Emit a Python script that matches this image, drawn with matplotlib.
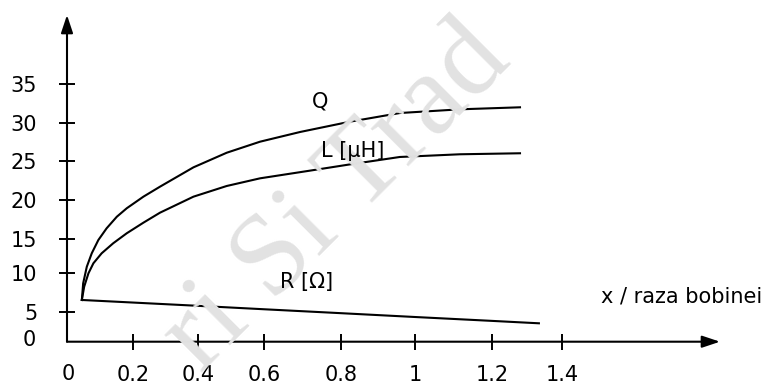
import numpy as np
import matplotlib
matplotlib.use("Agg")
import matplotlib.pyplot as plt

# ---------------- data ----------------
x_tick_values = [0, 0.2, 0.4, 0.6, 0.8, 1.0, 1.2, 1.4]
x_tick_labels = ["0", "0.2", "0.4", "0.6", "0.8", "1", "1.2", "1.4"]
y_tick_values = [0, 5, 10, 15, 20, 25, 30, 35]
y_tick_labels = ["0", "5", "10", "15", "20", "25", "30", "35"]

# Q curve
q_x = [0.045, 0.049, 0.060, 0.075, 0.095, 0.120, 0.151, 0.181, 0.232, 0.283,
       0.386, 0.487, 0.588, 0.694, 0.824, 0.959, 1.117, 1.28]
q_val = [6.58, 8.72, 10.95, 12.89, 14.81, 16.34, 17.84, 18.93, 20.43, 21.72,
         24.22, 26.11, 27.54, 28.80, 30.13, 31.25, 31.73, 31.99]

# L [uH] curve
l_x = [0.045, 0.052, 0.065, 0.080, 0.105, 0.140, 0.181, 0.232, 0.283, 0.386,
       0.487, 0.588, 0.719, 0.824, 0.959, 1.117, 1.28]
l_val = [6.58, 8.28, 10.00, 11.45, 12.89, 14.34, 15.70, 17.07, 18.36, 20.43,
         21.81, 22.80, 23.79, 24.60, 25.56, 25.91, 26.04]

# R [Ohm] curve
r_x = [0.045, 0.2, 0.4, 0.6, 0.8, 1.0, 1.2, 1.334]
r_val = [6.58, 6.25, 5.83, 5.39, 4.85, 4.20, 3.54, 3.13]

# ---------------- layout (hand-drawn, unevenly spaced axes) ----------------
W, H = 765, 385
x_tick_px = [67, 133, 198, 264, 341, 415, 492, 562]
y_tick_px = [341.7, 312.3, 273.3, 238.7, 200, 161.3, 122.7, 84]


def make_pw(xs, ys):
    xs = np.asarray(xs, float)
    ys = np.asarray(ys, float)
    s0 = (ys[1] - ys[0]) / (xs[1] - xs[0])
    s1 = (ys[-1] - ys[-2]) / (xs[-1] - xs[-2])

    def f(v):
        v = np.asarray(v, float)
        out = np.interp(v, xs, ys)
        out = np.where(v < xs[0], ys[0] + (v - xs[0]) * s0, out)
        out = np.where(v > xs[-1], ys[-1] + (v - xs[-1]) * s1, out)
        return out
    return f


fx = make_pw(x_tick_values, x_tick_px)
fx_inv = make_pw(x_tick_px, x_tick_values)
neg_y_px = [-p for p in y_tick_px]
fy = make_pw(y_tick_values, neg_y_px)
fy_inv = make_pw(neg_y_px, y_tick_values)

fig = plt.figure(figsize=(W / 100, H / 100), dpi=100)
ax = fig.add_axes([0, 0, 1, 1])
ax.set_xscale("function", functions=(fx, fx_inv))
ax.set_yscale("function", functions=(fy, fy_inv))
ax.set_xlim(float(fx_inv(0)), float(fx_inv(W)))
ax.set_ylim(float(fy_inv(-H)), float(fy_inv(0)))

FONT = "DejaVu Sans"
FS = 15

# watermark
fig.text(357 / W, 1 - 218 / H, "ri Si Trad", family="Liberation Serif",
         fontsize=84, color="#e2e2e2", rotation=45, rotation_mode="anchor",
         ha="center", va="baseline", zorder=0)

# axes with arrows
for s in ax.spines.values():
    s.set_visible(False)
ax.spines["left"].set_position(("data", 0))
ax.spines["bottom"].set_position(("data", 0))

arrow_kw = dict(arrowstyle="-|>,head_length=0.6,head_width=0.2", color="black",
                lw=1.5, mutation_scale=18, shrinkA=0, shrinkB=0)
ax.annotate("", xy=(0, float(fy_inv(-15))), xytext=(0, 0), arrowprops=arrow_kw)
ax.annotate("", xy=(float(fx_inv(720)), 0), xytext=(0, 0), arrowprops=arrow_kw)

ax.set_xticks(x_tick_values[1:])
ax.set_xticklabels(x_tick_labels[1:])
ax.set_yticks(y_tick_values[1:])
ax.set_yticklabels(y_tick_labels[1:])
ax.tick_params(axis="both", direction="inout", length=12, width=1.4,
               labelsize=FS, color="black")
ax.tick_params(axis="y", pad=15.5)
ax.tick_params(axis="x", pad=10.5)
for lab in ax.get_xticklabels() + ax.get_yticklabels():
    lab.set_family(FONT)

# the "0" labels at the origin (no tick marks there)
fig.text(68 / W, 1 - 374 / H, x_tick_labels[0], fontsize=FS, family=FONT,
         ha="center", va="center")
fig.text(36 / W, 1 - 340 / H, y_tick_labels[0], fontsize=FS, family=FONT,
         ha="right", va="center")

# curves
ax.plot(q_x, q_val, color="black", lw=1.5, solid_joinstyle="round")
ax.plot(l_x, l_val, color="black", lw=1.5, solid_joinstyle="round")
ax.plot(r_x, r_val, color="black", lw=1.5, solid_joinstyle="round")

# labels
fig.text(312 / W, 1 - 107 / H, "Q", fontsize=FS, family=FONT, ha="left", va="baseline")
fig.text(321 / W, 1 - 157 / H, "L [\u03bcH]", fontsize=FS, family=FONT, ha="left", va="baseline")
fig.text(280 / W, 1 - 288 / H, "R [\u03a9]", fontsize=FS, family=FONT, ha="left", va="baseline")
fig.text(601 / W, 1 - 302 / H, "x / raza bobinei", fontsize=FS, family=FONT,
         ha="left", va="baseline")

fig.savefig("out.png", dpi=100)
